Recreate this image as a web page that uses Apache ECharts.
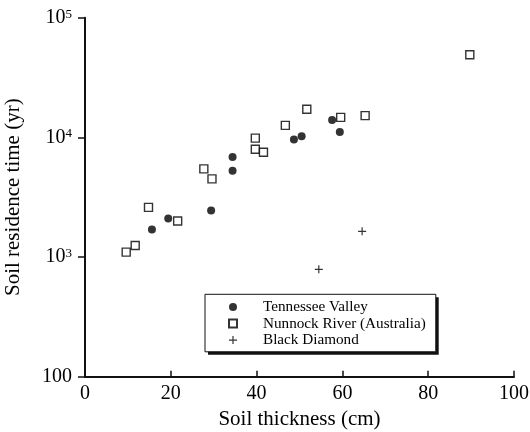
<!DOCTYPE html>
<html>
<head>
<meta charset="utf-8">
<script src="https://cdn.jsdelivr.net/npm/echarts@6/dist/echarts.min.js"></script>
<style>
html,body{margin:0;padding:0;background:#fff;}
#chart{width:530px;height:432px;}
</style>
</head>
<body>
<div id="chart"></div>
<script>
// ---- data ----
var seriesNames = ['Tennessee Valley', 'Nunnock River (Australia)', 'Black Diamond'];

var tennX = [15.6, 19.4, 29.4, 34.4, 34.4, 48.7, 50.5, 57.6, 59.4];
var tennY = [1700, 2100, 2450, 6850, 5250, 9600, 10200, 14000, 11100];

var nunX = [9.6, 11.7, 14.8, 21.6, 27.7, 29.6, 39.7, 39.7, 41.6, 46.7, 51.7, 59.6, 65.3, 89.7];
var nunY = [1100, 1250, 2600, 2000, 5450, 4500, 9850, 7950, 7500, 12600, 17200, 14700, 15200, 49000];

var bdX = [54.5, 64.6];
var bdY = [790, 1640];

var xTicks = [0, 20, 40, 60, 80, 100];
var yTickValues = [100, 1000, 10000, 100000];
var yTickLabels = ['100', '10{s|3}', '10{s|4}', '10{s|5}'];

var xTitle = 'Soil thickness (cm)';
var yTitle = 'Soil residence time (yr)';

function pairs(xs, ys) {
  return xs.map(function (x, i) { return [x, ys[i]]; });
}

var FONT = '"Liberation Serif", "DejaVu Serif", serif';
var INK = '#000';

var chart = echarts.init(document.getElementById('chart'), null, {renderer: 'canvas'});

chart.setOption({
  backgroundColor: '#fff',
  animation: false,
  grid: {left: 85, right: 16, top: 17.7, bottom: 55.3, containLabel: false, outerBoundsMode: 'none'},
  graphic: [
    { // drop shadow behind the legend frame
      type: 'rect', z: 1,
      shape: {x: 208, y: 297.3, width: 230.7, height: 57.4},
      style: {fill: '#111'}
    }
  ],
  xAxis: {
    type: 'value',
    min: xTicks[0],
    max: xTicks[xTicks.length - 1],
    interval: 20,
    name: xTitle,
    nameLocation: 'middle',
    nameGap: 31,
    nameTextStyle: {fontFamily: FONT, fontSize: 21, color: INK},
    axisLine: {show: true, onZero: false, lineStyle: {color: '#111', width: 2}},
    axisTick: {show: true, inside: true, length: 6, lineStyle: {color: '#111', width: 1.5}},
    axisLabel: {
      margin: 7, fontFamily: FONT, fontSize: 20, color: INK,
      formatter: function (v) { return xTicks.indexOf(v) >= 0 ? String(v) : ''; }
    },
    splitLine: {show: false}
  },
  yAxis: {
    type: 'log',
    logBase: 10,
    min: yTickValues[0],
    max: yTickValues[yTickValues.length - 1],
    name: yTitle,
    nameLocation: 'middle',
    nameGap: 61,
    nameTextStyle: {fontFamily: FONT, fontSize: 21, color: INK},
    axisLine: {show: true, onZero: false, lineStyle: {color: '#111', width: 2}},
    axisTick: {show: true, inside: false, length: 7, lineStyle: {color: '#111', width: 1.5}},
    minorTick: {show: false},
    axisLabel: {
      margin: 13, fontFamily: FONT, fontSize: 20, color: INK,
      formatter: function (v) {
        var i = yTickValues.indexOf(Math.round(v));
        return i >= 0 ? yTickLabels[i] : '';
      },
      rich: {
        s: {fontFamily: FONT, fontSize: 13, color: INK, verticalAlign: 'top', lineHeight: 13}
      }
    },
    splitLine: {show: false}
  },
  legend: {
    orient: 'vertical',
    left: 205,
    top: 294.3,
    z: 5,
    itemWidth: 8,
    itemHeight: 8,
    itemGap: 0,
    padding: [4.5, 10, 3.5, 23],
    borderColor: '#111',
    borderWidth: 1,
    backgroundColor: '#fff',
    textStyle: {fontFamily: FONT, fontSize: 15.2, lineHeight: 16.5, color: INK, padding: [0, 0, 0, 21]},
    data: seriesNames
  },
  series: [
    {
      name: seriesNames[0],
      type: 'scatter',
      symbol: 'circle',
      symbolSize: 8,
      itemStyle: {color: INK},
      data: pairs(tennX, tennY)
    },
    {
      name: seriesNames[1],
      type: 'scatter',
      symbol: 'rect',
      symbolSize: 8,
      itemStyle: {color: '#fff', borderColor: INK, borderWidth: 1.4},
      data: pairs(nunX, nunY)
    },
    {
      name: seriesNames[2],
      type: 'scatter',
      symbol: 'path://M4.25,0h1.5v4.25h4.25v1.5h-4.25v4.25h-1.5v-4.25h-4.25v-1.5h4.25z',
      symbolSize: 8,
      itemStyle: {color: INK},
      data: pairs(bdX, bdY)
    }
  ]
});
</script>
</body>
</html>
